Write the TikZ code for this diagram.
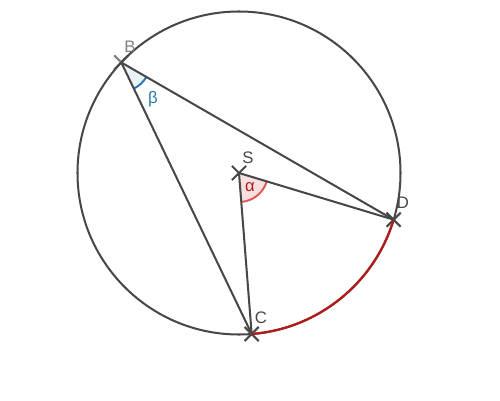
\documentclass[tikz,border=0pt]{standalone}
\usepackage{fontspec}
\setmainfont{Liberation Sans}
\usetikzlibrary{shapes.misc,angles}
\definecolor{linegray}{HTML}{474747}
\definecolor{arcred}{HTML}{B01C1C}
\definecolor{alphared}{HTML}{E05555}
\definecolor{betablue}{HTML}{2878B0}
\begin{document}
\begin{tikzpicture}[font=\fontsize{9.5}{11}\selectfont,
    pt/.style={draw=linegray,line width=1.2pt,cross out,inner sep=0pt,minimum size=0.24cm},
    seg/.style={draw=linegray,line width=1.15pt},
    lbl/.style={text=linegray}]
                \useasboundingbox (-4.78,-4.54) rectangle (5.22,3.46);
                \node[pt] (S) at (0,0) {};
                \node[pt,draw=gray] (B) at (136.8:3.23) {};
                \node[pt] (C) at (-85.5:3.23) {};
                \node[pt] (D) at (-16.8:3.23) {};

                \draw[linegray,line width=1.15pt] (S.center) circle (3.23);
                \draw[arcred,line width=1.3pt] (C.center) arc (-85.5:-16.8:3.23);

                \pic[draw=alphared,fill=alphared!18,line width=1.1pt,angle radius=0.58cm] {angle=C--S--D};
                \pic[draw=betablue,fill=betablue!10,line width=1.1pt,angle radius=0.58cm] {angle=C--B--D};

                \path [seg] (B.center) edge (C.center);
                \path [seg] (B.center) edge (D.center);
                \path [seg] (S.center) edge (C.center);
                \path [seg] (S.center) edge (D.center);

                \node[lbl,text=gray] (Bl) at (-2.18,2.52) {B};
                \node[lbl] (Sl) at (0.18,0.30) {S};
                \node[lbl] (Cl) at (0.44,-2.90) {C};
                \node[lbl] (Dl) at (3.28,-0.60) {D};
                \node[text=betablue] (beta) at (-1.72,1.48) {β};
                \node[text=arcred] (alpha) at (0.22,-0.28) {α};
            \end{tikzpicture}
\end{document}
